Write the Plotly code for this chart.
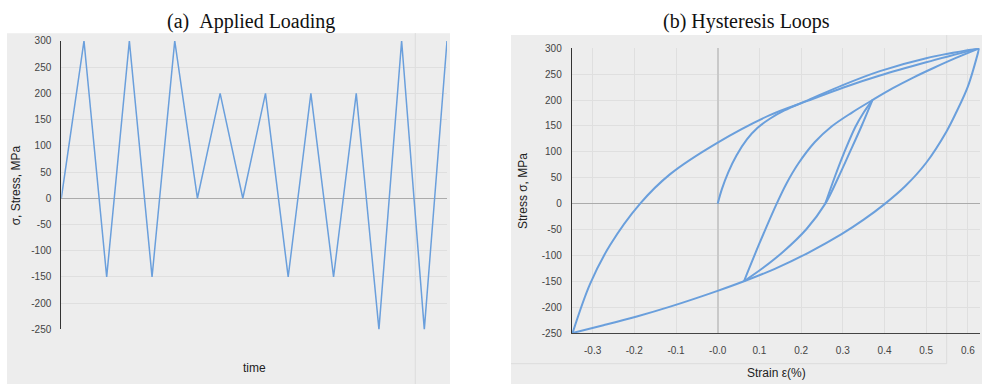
import plotly.graph_objects as go

W, H = 982, 390

# ---------------- (a) Applied loading ----------------
time_steps = list(range(18))
applied_stress = [0, 300, -150, 300, -150, 300, 0, 200, 0, 200, -150, 200, -150, 200, -250, 300, -250, 300]

# ---------------- (b) Hysteresis loops (branches) ----------------
initial_x = [0.0, 0.01, 0.025, 0.045, 0.07, 0.095, 0.125, 0.16, 0.217, 0.3, 0.389, 0.5, 0.627]
initial_y = [0, 28, 60, 93, 124, 146, 164, 180, 200, 229, 256, 281, 300]

upper_x = [-0.348, -0.306, -0.258, -0.186, -0.114, 0.0, 0.125, 0.217, 0.3, 0.389, 0.5, 0.627]
upper_y = [-250, -155, -80, 0, 57, 118, 171, 199, 224, 247.5, 273, 300]

lower_x = [0.627, 0.6, 0.573, 0.549, 0.5, 0.45, 0.4, 0.35, 0.297, 0.217, 0.137, 0.063,
           -0.002, -0.114, -0.194, -0.274, -0.348]
lower_y = [300, 226.5, 178, 140, 79, 34, -1, -31, -59, -95, -126, -150,
           -169, -199, -218, -235, -250]

reload_x = [0.063, 0.1, 0.1415, 0.165, 0.193, 0.233, 0.273, 0.321, 0.371, 0.42, 0.47, 0.52, 0.57, 0.627]
reload_y = [-150, -77, 0, 39, 77, 119, 149, 175.5, 200, 223, 244, 263, 281, 300]

unload_x = [0.371, 0.345, 0.316, 0.29, 0.258, 0.213, 0.157, 0.109, 0.063]
unload_y = [200, 150, 98, 52, 0, -49, -93, -124, -150]

inner_x = [0.258, 0.28, 0.303, 0.33, 0.35, 0.371]
inner_y = [0, 50, 98, 148, 176, 200]

y_ticks = [300, 250, 200, 150, 100, 50, 0, -50, -100, -150, -200, -250]
y_ticktext = ["300", "250", "200", "150", "100", "50", "0", "-50", "-100", "-150", "-200", "-250"]
x_ticks = [-0.3, -0.2, -0.1, 0.0, 0.1, 0.2, 0.3, 0.4, 0.5, 0.6]
x_ticktext = ["-0.3", "-0.2", "-0.1", "-0.0", "0.1", "0.2", "0.3", "0.4", "0.5", "0.6"]

LINE = "#6a9fdc"
BG = "#ededed"
GRID = "#dfdfdf"
TICKFONT = dict(family="Liberation Sans, Arial", size=10, color="#444444")

def px(x):
    return x / W

def py(y):
    return 1 - y / H

fig = go.Figure()
fig.add_trace(go.Scatter(x=time_steps, y=applied_stress, mode="lines",
                         line=dict(color=LINE, width=1.5), xaxis="x", yaxis="y",
                         showlegend=False, cliponaxis=False))

for bx, by in [(initial_x, initial_y), (upper_x, upper_y), (lower_x, lower_y),
               (reload_x, reload_y), (unload_x, unload_y), (inner_x, inner_y)]:
    fig.add_trace(go.Scatter(x=bx, y=by, mode="lines",
                             line=dict(color=LINE, width=2, shape="spline", smoothing=1.0),
                             xaxis="x2", yaxis="y2", showlegend=False, cliponaxis=False))

shapes = [
    dict(type="rect", xref="paper", yref="paper", x0=px(7), x1=px(450), y0=py(390), y1=py(28),
         fillcolor=BG, line=dict(width=0), layer="below"),
    dict(type="rect", xref="paper", yref="paper", x0=px(511), x1=px(982), y0=py(390), y1=py(30),
         fillcolor=BG, line=dict(width=0), layer="below"),
    dict(type="line", xref="paper", yref="paper", x0=px(415.3), x1=px(415.3), y0=py(390), y1=py(28),
         line=dict(color="#dcdcdc", width=1), layer="below"),
    dict(type="line", xref="paper", yref="paper", x0=px(946.7), x1=px(946.7), y0=py(369), y1=py(30),
         line=dict(color="#dcdcdc", width=1), layer="below"),
    dict(type="line", xref="paper", yref="paper", x0=px(511), x1=px(946.7), y0=py(369), y1=py(369),
         line=dict(color="#dcdcdc", width=1), layer="below"),
]

annotations = [
    dict(text="(a)\u00a0\u00a0Applied Loading", x=px(251), y=py(16), xref="paper", yref="paper",
         showarrow=False, xanchor="center", yanchor="middle",
         font=dict(family="Liberation Serif, Times New Roman", size=20, color="#111111")),
    dict(text="(b) Hysteresis Loops", x=px(746), y=py(16), xref="paper", yref="paper",
         showarrow=False, xanchor="center", yanchor="middle",
         font=dict(family="Liberation Serif, Times New Roman", size=20, color="#111111")),
    dict(text="σ, Stress, MPa", x=px(16), y=py(185), xref="paper", yref="paper", textangle=-90,
         showarrow=False, xanchor="center", yanchor="middle",
         font=dict(family="Liberation Sans, Arial", size=12, color="#222222")),
    dict(text="time", x=px(254), y=py(374), xref="paper", yref="paper",
         showarrow=False, xanchor="center", yanchor="middle",
         font=dict(family="Liberation Sans, Arial", size=12, color="#222222")),
    dict(text="Stress σ, MPa", x=px(523), y=py(191), xref="paper", yref="paper", textangle=-90,
         showarrow=False, xanchor="center", yanchor="middle",
         font=dict(family="Liberation Sans, Arial", size=12, color="#222222")),
    dict(text="Strain ε(%)", x=px(776), y=py(379), xref="paper", yref="paper",
         showarrow=False, xanchor="center", yanchor="middle",
         font=dict(family="Liberation Sans, Arial", size=12, color="#222222")),
]

fig.update_layout(
    width=W, height=H, margin=dict(l=0, r=0, t=0, b=0),
    paper_bgcolor="white", plot_bgcolor=BG,
    shapes=shapes, annotations=annotations,
    xaxis=dict(domain=[px(61.3), px(447)], range=[0, 17], showgrid=False, zeroline=False,
               showticklabels=False, showline=False, ticks="", anchor="y", fixedrange=True),
    yaxis=dict(domain=[py(333.7), py(36)], range=[-250, 300], tickvals=y_ticks, ticktext=y_ticktext,
               showgrid=True, gridcolor=GRID, gridwidth=1, zeroline=True, zerolinecolor="#ababab",
               zerolinewidth=1, showline=True, linecolor="#333333", linewidth=1,
               ticks="outside", ticklen=7, tickcolor="rgba(0,0,0,0)", tickfont=TICKFONT, anchor="x"),
    xaxis2=dict(domain=[px(571.75), px(979.6)], range=[-0.35, 0.628], tickvals=x_ticks, ticktext=x_ticktext,
                showgrid=True, gridcolor=GRID, gridwidth=1, zeroline=True, zerolinecolor="#c9c9c9",
                zerolinewidth=2, showline=True, linecolor="#444444", linewidth=1,
                ticks="outside", ticklen=8, tickcolor="rgba(0,0,0,0)", tickfont=TICKFONT, anchor="y2"),
    yaxis2=dict(domain=[py(337.4), py(43.7)], range=[-250, 300], tickvals=y_ticks, ticktext=y_ticktext,
                showgrid=True, gridcolor=GRID, gridwidth=1, zeroline=True, zerolinecolor="#ababab",
                zerolinewidth=1, showline=True, linecolor="#333333", linewidth=1,
                ticks="outside", ticklen=7, tickcolor="rgba(0,0,0,0)", tickfont=TICKFONT, anchor="x2"),
)

fig.write_html("out.html", config={"displayModeBar": False},
               post_script="document.body.style.margin='0';document.body.style.padding='0';")
